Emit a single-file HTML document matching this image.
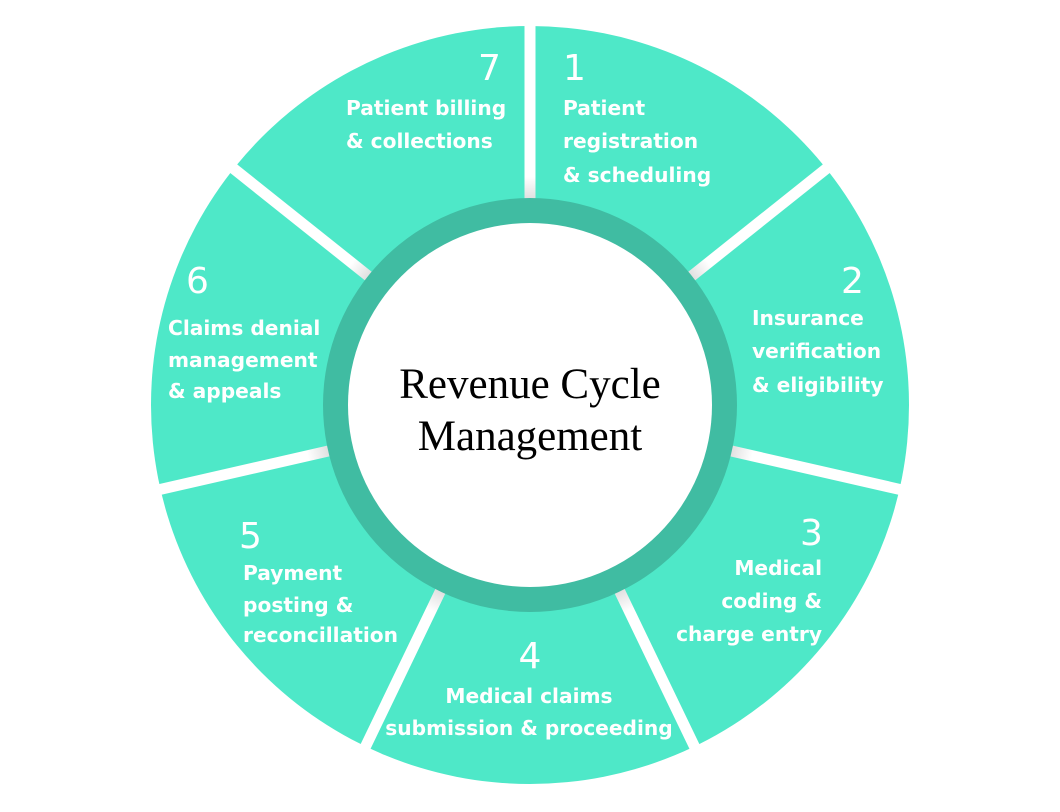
<!DOCTYPE html>
<html><head><meta charset="utf-8"><style>
html,body{margin:0;padding:0;background:#fff;width:1060px;height:812px;overflow:hidden}
svg{display:block}
.t{font-family:"DejaVu Sans","Liberation Sans",sans-serif;font-size:20.2px;fill:#fff;font-weight:600}
.n{font-family:"DejaVu Sans","Liberation Sans",sans-serif;font-size:36px;fill:#fff}
.c{font-family:"Liberation Serif",serif;font-size:43px;fill:#000}
</style></head><body>
<svg width="1060" height="812" viewBox="0 0 1060 812">
<defs>
<linearGradient id="g" gradientUnits="userSpaceOnUse" x1="0" y1="0" x2="0" y2="-380">
<stop offset="0.5" stop-color="#c8c8c8"/><stop offset="0.6" stop-color="#fff"/></linearGradient>
</defs>
<circle cx="530" cy="405" r="379" fill="#4ee8c8"/>
<g transform="translate(530,405)">
<g stroke="url(#g)" stroke-width="11">
<line x1="0" y1="0" x2="0" y2="-390" transform="rotate(0)"/>
<line x1="0" y1="0" x2="0" y2="-390" transform="rotate(51.43)"/>
<line x1="0" y1="0" x2="0" y2="-390" transform="rotate(102.86)"/>
<line x1="0" y1="0" x2="0" y2="-390" transform="rotate(154.29)"/>
<line x1="0" y1="0" x2="0" y2="-390" transform="rotate(205.71)"/>
<line x1="0" y1="0" x2="0" y2="-390" transform="rotate(257.14)"/>
<line x1="0" y1="0" x2="0" y2="-390" transform="rotate(308.57)"/>
</g>
<circle r="207" fill="#40bca2"/>
<circle r="182" fill="#fff"/>
</g>
<text class="n" x="478" y="80">7</text>
<text class="t" x="346" y="115">Patient billing</text>
<text class="t" x="346" y="148">&amp; collections</text>
<text class="n" x="563" y="80">1</text>
<text class="t" x="563" y="115">Patient</text>
<text class="t" x="563" y="148">registration</text>
<text class="t" x="563" y="182">&amp; scheduling</text>
<text class="n" x="841" y="293">2</text>
<text class="t" x="752" y="325">Insurance</text>
<text class="t" x="752" y="358">verification</text>
<text class="t" x="752" y="392">&amp; eligibility</text>
<text class="n" x="800" y="545">3</text>
<text class="t" x="822" y="575" text-anchor="end">Medical</text>
<text class="t" x="822" y="608" text-anchor="end">coding &amp;</text>
<text class="t" x="822" y="641" text-anchor="end">charge entry</text>
<text class="n" x="530" y="668" text-anchor="middle">4</text>
<text class="t" x="529" y="703" text-anchor="middle">Medical claims</text>
<text class="t" x="529" y="735" text-anchor="middle">submission &amp; proceeding</text>
<text class="n" x="239" y="548">5</text>
<text class="t" x="243" y="580">Payment</text>
<text class="t" x="243" y="612">posting &amp;</text>
<text class="t" x="243" y="642">reconcillation</text>
<text class="n" x="186" y="293">6</text>
<text class="t" x="168" y="335">Claims denial</text>
<text class="t" x="168" y="367">management</text>
<text class="t" x="168" y="398">&amp; appeals</text>
<text class="c" x="530" y="398" text-anchor="middle">Revenue Cycle</text>
<text class="c" x="530" y="450" text-anchor="middle">Management</text>
</svg>
</body></html>
